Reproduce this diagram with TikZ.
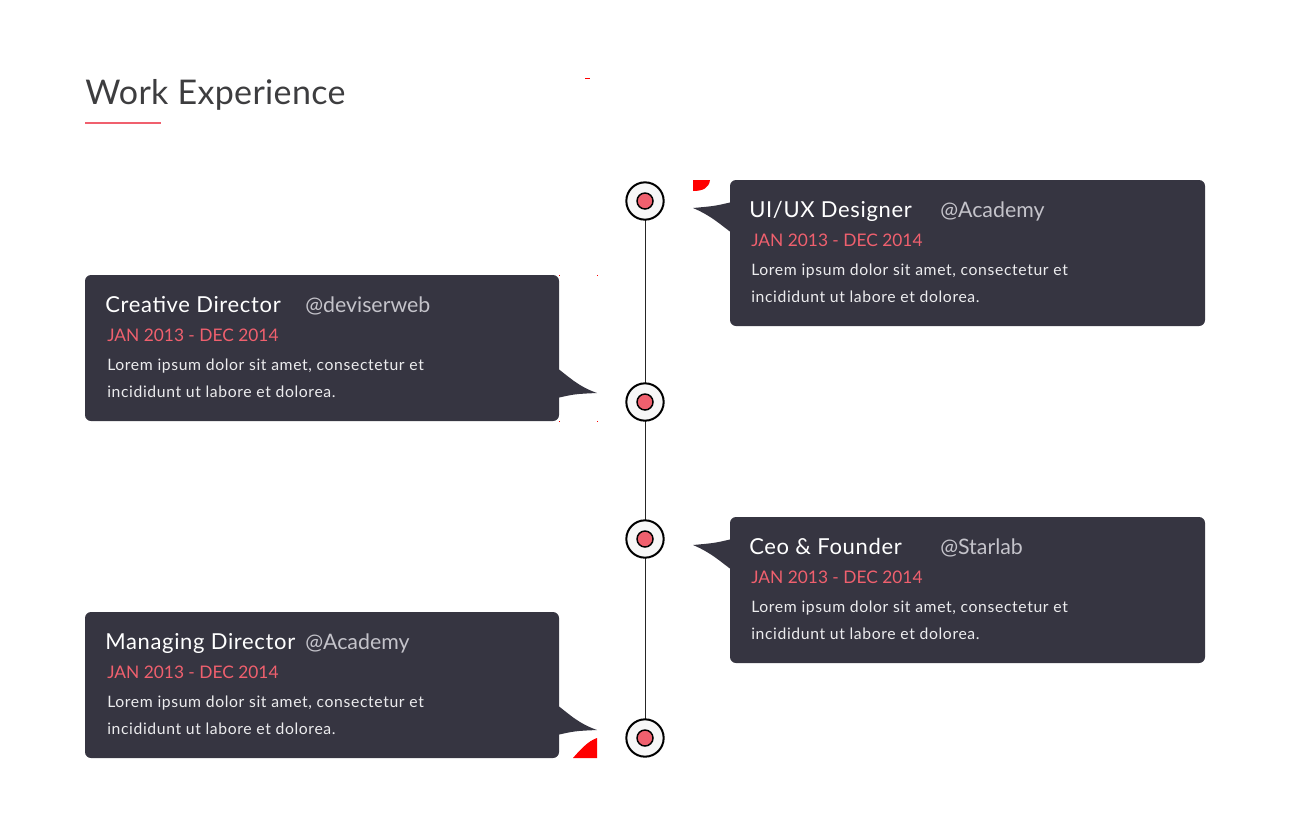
\documentclass[tikz,border=0pt]{standalone}
\usepackage{fontspec}
\setmainfont{Lato}
\usepackage{tikz}

\definecolor{cardbg}{HTML}{363541}
\definecolor{accent}{HTML}{F0606E}
\definecolor{heading}{HTML}{3D3D3F}
\definecolor{handlegray}{HTML}{C4C3CA}
\definecolor{bodytext}{HTML}{ECECEE}
\definecolor{ringfill}{HTML}{F7F7F7}
\definecolor{strayred}{HTML}{FF0000}

\begin{document}
\begin{tikzpicture}[x=0.75pt,y=0.75pt,yscale=-1,xscale=1,
	card/.style={fill=cardbg, rounded corners=4.5pt},
	ring/.style={circle, draw=black, line width=1.5pt, fill=ringfill, minimum size=28pt, inner sep=0pt},
	dot/.style={circle, draw=black, line width=1.1pt, fill=accent, minimum size=12pt, inner sep=0pt},
	role/.style={anchor=base west, inner sep=0pt, text=white, font=\fontsize{16.5}{19}\selectfont\addfontfeatures{LetterSpace=3}},
	handle/.style={anchor=base west, inner sep=0pt, text=handlegray, font=\fontsize{16}{19}\selectfont},
	period/.style={anchor=base west, inner sep=0pt, text=accent, font=\fontsize{13}{16}\selectfont},
	body/.style={anchor=base west, inner sep=0pt, text=bodytext, font=\fontsize{11.8}{14}\selectfont\addfontfeatures{LetterSpace=4}}]
	\useasboundingbox (0,0) rectangle (1300,839);
	
	% Heading
	\draw (85,104) node [anchor=base west][inner sep=0pt, text=heading, font=\fontsize{25.5}{30}\selectfont\addfontfeatures{LetterSpace=1}] (heading) {Work Experience};
	\fill [accent] (85,122) rectangle (161,124);
	
	% stray red marks
	\fill [strayred] (585,77.5) rectangle (590,79);
	\fill [strayred] (693,180) -- (710,180) .. controls (709,188) and (703,191) .. (693,191) -- cycle;
	\fill [strayred] (573,758) -- (597,758) -- (597,738) .. controls (588,741) and (580,750) .. cycle;
	\fill [strayred] (558.5,274.5) rectangle (560,276);
	\fill [strayred] (596.5,274.5) rectangle (598,276);
	\fill [strayred] (558.5,420.5) rectangle (560,422);
	\fill [strayred] (596.5,420.5) rectangle (598,422);
	
	% Timeline
	\coordinate (t1) at (645,201);
	\coordinate (t2) at (645,402);
	\coordinate (t3) at (645,539);
	\coordinate (t4) at (645,738);
	\draw [line width=0.6pt, draw=black!85] (t1) -- (t4);
	\node [ring] (r1) at (t1) {};
	\node [ring] (r2) at (t2) {};
	\node [ring] (r3) at (t3) {};
	\node [ring] (r4) at (t4) {};
	\node [dot] (d1) at (t1) {};
	\node [dot] (d2) at (t2) {};
	\node [dot] (d3) at (t3) {};
	\node [dot] (d4) at (t4) {};
	
	% Card: UI/UX Designer
	\fill [card] (730,180) rectangle (1205,326);
	\fill [cardbg] (732,202) .. controls (715,206) .. (693,208) .. controls (712,216) and (722,226) .. (732,233) -- cycle;
	\draw (749,217) node [role] (role1) {UI/UX Designer};
	\draw (940,217) node [handle] (handle1) {@Academy};
	\draw (751,246) node [period] (period1) {JAN 2013 - DEC 2014};
	\draw (751,275) node [body] (bodya1) {Lorem ipsum dolor sit amet, consectetur et};
	\draw (751,302) node [body] (bodyb1) {incididunt ut labore et dolorea.};
	
	% Card: Creative Director
	\fill [card] (85,275) rectangle (559,421);
	\fill [cardbg] (557,368) .. controls (567,375) and (577,386) .. (597,393) .. controls (575,394) .. (557,398) -- cycle;
	\draw (105,312) node [role] (role2) {Creative Director};
	\draw (305,312) node [handle] (handle2) {@deviserweb};
	\draw (107,341) node [period] (period2) {JAN 2013 - DEC 2014};
	\draw (107,370) node [body] (bodya2) {Lorem ipsum dolor sit amet, consectetur et};
	\draw (107,397) node [body] (bodyb2) {incididunt ut labore et dolorea.};
	
	% Card: Ceo & Founder
	\fill [card] (730,517) rectangle (1205,663);
	\fill [cardbg] (732,539) .. controls (715,543) .. (693,545) .. controls (712,553) and (722,563) .. (732,570) -- cycle;
	\draw (749,554) node [role] (role3) {Ceo \& Founder};
	\draw (940,554) node [handle] (handle3) {@Starlab};
	\draw (751,583) node [period] (period3) {JAN 2013 - DEC 2014};
	\draw (751,612) node [body] (bodya3) {Lorem ipsum dolor sit amet, consectetur et};
	\draw (751,639) node [body] (bodyb3) {incididunt ut labore et dolorea.};
	
	% Card: Managing Director
	\fill [card] (85,612) rectangle (559,758);
	\fill [cardbg] (557,705) .. controls (567,712) and (577,723) .. (597,730) .. controls (575,731) .. (557,735) -- cycle;
	\draw (105,649) node [role] (role4) {Managing Director};
	\draw (305,649) node [handle] (handle4) {@Academy};
	\draw (107,678) node [period] (period4) {JAN 2013 - DEC 2014};
	\draw (107,707) node [body] (bodya4) {Lorem ipsum dolor sit amet, consectetur et};
	\draw (107,734) node [body] (bodyb4) {incididunt ut labore et dolorea.};
	
\end{tikzpicture}
\end{document}
